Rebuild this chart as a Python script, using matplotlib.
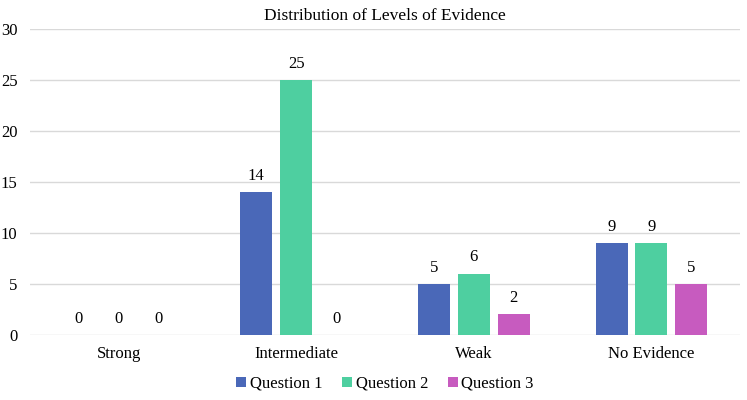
import numpy as np
import matplotlib
matplotlib.use("Agg")
import matplotlib.pyplot as plt

plt.rcParams['font.family'] = ['Liberation Serif', 'DejaVu Serif']

categories = ["Strong", "Intermediate", "Weak", "No Evidence"]
series = ["Question 1", "Question 2", "Question 3"]
q1 = [0, 14, 5, 9]
q2 = [0, 25, 6, 9]
q3 = [0, 0, 2, 5]
colors = ["#4a68b8", "#4ecfa0", "#c75bbf"]

fig = plt.figure(figsize=(7.47, 4.0), dpi=100)
ax = fig.add_axes([0.04, 0.163, 0.951, 0.765])

x = np.arange(len(categories))
w = 0.18
step = 0.225
for i, (vals, name, c) in enumerate(zip([q1, q2, q3], series, colors)):
    pos = x + (i - 1) * step
    bars = ax.bar(pos, vals, width=w, color=c, label=name, zorder=3)
    for p, v in zip(pos, vals):
        ax.text(p, v + 0.8, str(v), ha='center', va='bottom', fontsize=12)

ax.set_xlim(-0.5, 3.5)
ax.set_ylim(0, 30)
ax.set_yticks(range(0, 31, 5))
ax.set_xticks(x)
ax.set_xticklabels(categories, fontsize=12)
ax.tick_params(axis='y', labelsize=12, length=0, pad=9)
ax.tick_params(axis='x', length=0, pad=8)
ax.grid(axis='y', color='#d9d9d9', linewidth=1, zorder=0)
for s in ax.spines.values():
    s.set_visible(False)

ax.set_title("Distribution of Levels of Evidence", fontsize=12.5, pad=6)
ax.legend(loc='upper center', bbox_to_anchor=(0.5, -0.085), ncol=3, frameon=False,
          fontsize=12, handlelength=0.6, handleheight=0.6, handletextpad=0.2,
          columnspacing=1.2)

fig.savefig("out.png", dpi=100)
